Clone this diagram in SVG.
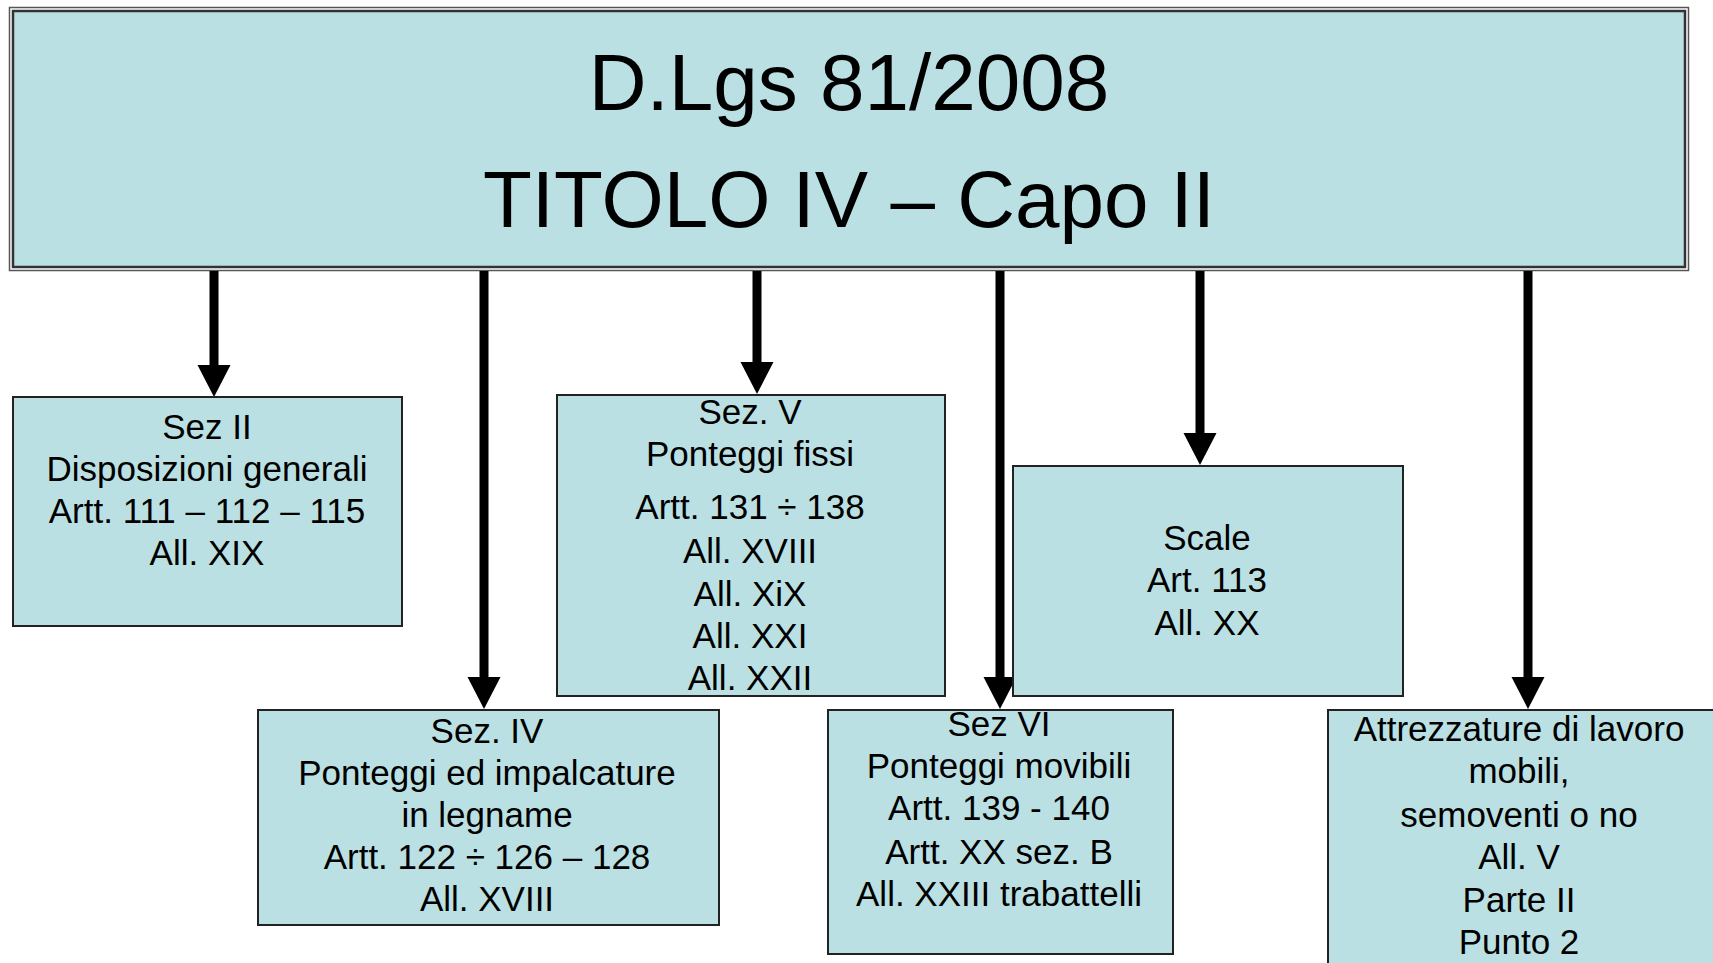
<svg xmlns="http://www.w3.org/2000/svg" width="1713" height="963" viewBox="0 0 1713 963">
<style>
.box{fill:#BBE0E3;stroke:#222;stroke-width:2}
.t{font-family:"Liberation Sans",Arial,sans-serif;font-size:35px;fill:#000;text-anchor:middle}
.title{font-family:"Liberation Sans",Arial,sans-serif;font-size:80px;fill:#000;text-anchor:middle}
.conn{stroke:#000;stroke-width:9;fill:none;marker-end:url(#ah)}
</style>
<defs>
<marker id="ah" markerUnits="userSpaceOnUse" markerWidth="34" markerHeight="34" refX="0" refY="16.5" orient="auto" overflow="visible">
<path d="M0,0 L32,16.5 L0,33 Z" fill="#000"/>
</marker>
</defs>
<rect width="1713" height="963" fill="#fff"/>
<g id="top">
<rect x="9.5" y="7.5" width="1679" height="263" fill="#fff" stroke="#555" stroke-width="1.5"/>
<rect x="13" y="11" width="1672" height="256" fill="#BBE0E3" stroke="#333" stroke-width="2.5"/>
<text class="title" x="849" y="110">D.Lgs 81/2008</text>
<text class="title" x="849" y="227">TITOLO IV – Capo II</text>
</g>
<g id="connectors">
<line class="conn" x1="214" y1="271" x2="214" y2="365"/>
<line class="conn" x1="484" y1="271" x2="484" y2="677"/>
<line class="conn" x1="757" y1="271" x2="757" y2="362"/>
<line class="conn" x1="1000" y1="271" x2="1000" y2="677"/>
<line class="conn" x1="1200" y1="271" x2="1200" y2="433"/>
<line class="conn" x1="1528" y1="271" x2="1528" y2="677"/>
</g>
<g id="sez2">
<rect class="box" x="13" y="397" width="389" height="229"/>
<text class="t" x="207" y="439">Sez II</text>
<text class="t" x="207" y="481">Disposizioni generali</text>
<text class="t" x="207" y="523">Artt. 111 – 112 – 115</text>
<text class="t" x="207" y="565">All. XIX</text>
</g>
<g id="sez4">
<rect class="box" x="258" y="710" width="461" height="215"/>
<text class="t" x="487" y="743">Sez. IV</text>
<text class="t" x="487" y="785">Ponteggi ed impalcature</text>
<text class="t" x="487" y="827">in legname</text>
<text class="t" x="487" y="869">Artt. 122 ÷ 126 – 128</text>
<text class="t" x="487" y="911">All. XVIII</text>
</g>
<g id="sez5">
<rect class="box" x="557" y="395" width="388" height="301"/>
<text class="t" x="750" y="424">Sez. V</text>
<text class="t" x="750" y="466">Ponteggi fissi</text>
<text class="t" x="750" y="519">Artt. 131 ÷ 138</text>
<text class="t" x="750" y="563">All. XVIII</text>
<text class="t" x="750" y="606">All. XiX</text>
<text class="t" x="750" y="648">All. XXI</text>
<text class="t" x="750" y="690">All. XXII</text>
</g>
<g id="sez6">
<rect class="box" x="828" y="710" width="345" height="244"/>
<text class="t" x="999" y="736">Sez VI</text>
<text class="t" x="999" y="778">Ponteggi movibili</text>
<text class="t" x="999" y="820">Artt. 139 - 140</text>
<text class="t" x="999" y="864">Artt. XX sez. B</text>
<text class="t" x="999" y="906">All. XXIII trabattelli</text>
</g>
<g id="scale">
<rect class="box" x="1013" y="466" width="390" height="230"/>
<text class="t" x="1207" y="550">Scale</text>
<text class="t" x="1207" y="592">Art. 113</text>
<text class="t" x="1207" y="635">All. XX</text>
</g>
<g id="attrezzature">
<rect class="box" x="1328" y="710" width="420" height="300"/>
<text class="t" x="1519" y="741">Attrezzature di lavoro</text>
<text class="t" x="1519" y="783">mobili,</text>
<text class="t" x="1519" y="827">semoventi o no</text>
<text class="t" x="1519" y="869">All. V</text>
<text class="t" x="1519" y="912">Parte II</text>
<text class="t" x="1519" y="954">Punto 2</text>
</g>
</svg>
